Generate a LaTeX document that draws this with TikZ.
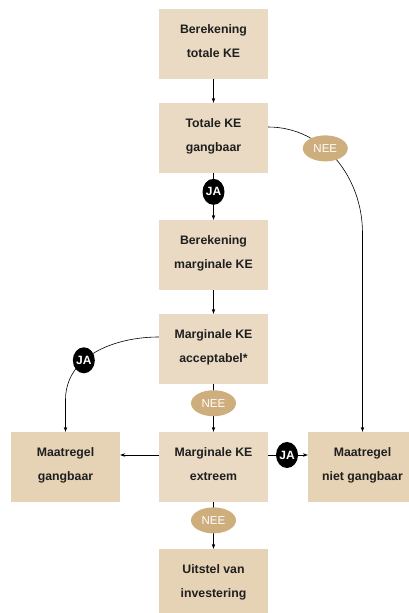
\documentclass[tikz,border=0pt]{standalone}
\usepackage{fontspec}
\setmainfont{Liberation Sans}
\usetikzlibrary{arrows.meta,shapes.geometric}
\definecolor{kebox}{HTML}{EADAC3}
\definecolor{keboxb}{HTML}{E6D3B6}
\definecolor{neefill}{HTML}{CFAE7D}
\tikzset{
  stap/.style={fill=kebox, minimum width=109pt, minimum height=70pt, inner sep=0pt,
    align=center, text=black!88, text depth=6pt, font=\bfseries\fontsize{12.3}{24}\selectfont},
  stapb/.style={stap, fill=keboxb},
  ja/.style={ellipse, fill=black, text=white, minimum width=22pt, minimum height=26pt,
    inner sep=0pt, font=\bfseries\fontsize{12}{14}\selectfont},
  nee/.style={ellipse, fill=neefill, text=white, minimum width=45pt, minimum height=26pt,
    inner sep=0pt, font=\fontsize{11.5}{13}\selectfont},
  pijl/.style={-{Stealth[length=5pt,width=3.6pt]}, line width=0.6pt}
}
\begin{document}
\begin{tikzpicture}[x=1pt,y=-1pt]
\useasboundingbox (0,0) rectangle (409,613);
%\draw [help lines] (0,0) grid (409,613);
\node [stap] (b1) at (213.5,44) {Berekening\\totale KE};
\node [stap] (b2) at (213.5,138) {Totale KE\\gangbaar};
\node [stap] (b3) at (213.5,255) {Berekening\\marginale KE};
\node [stap] (b4) at (213.5,349) {Marginale KE\\acceptabel*};
\node [stap] (b5) at (213.5,467) {Marginale KE\\extreem};
\node [stapb] (mg) at (65.5,467) {Maatregel\\gangbaar};
\node [stapb] (mng) at (362.5,467) {Maatregel\\niet gangbaar};
\node [stapb] (uit) at (213.5,584) {Uitstel van\\investering};
\coordinate (knik1) at (362.5,233);
\coordinate (knik2) at (65.5,400);
% middenkolom
\draw [pijl] (b1) -- (b2);
\draw [pijl] (b2) -- node [ja,pos=0.4] (ja1) {JA} (b3);
\draw [pijl] (b3) -- (b4);
\draw [pijl] (b4) -- node [nee,pos=0.4] (nee2) {NEE} (b5);
\draw [pijl] (b5) -- node [nee,pos=0.39] (nee3) {NEE} (uit);
% zijtakken
\draw [pijl] ([yshift=11pt]b2.east) to[out=0,in=90] node [nee,pos=0.4] (nee1) {NEE} (knik1) -- (mng.north);
\draw [pijl] ([yshift=12pt]b4.west) to[out=180,in=90] node [ja,pos=0.62] (ja2) {JA} (knik2) -- (mg.north);
\draw [pijl] ([yshift=12pt]b5.west) -- ([yshift=12pt]mg.east);
\draw [pijl] ([yshift=12pt]b5.east) -- node [ja,pos=0.475] (ja3) {JA} ([yshift=12pt]mng.west);
\end{tikzpicture}
\end{document}
